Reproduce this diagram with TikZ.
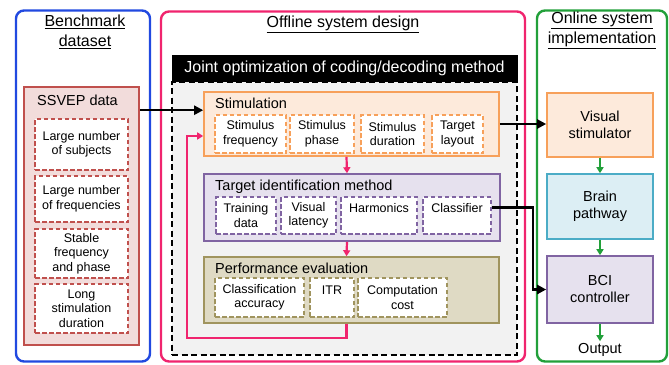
\documentclass[tikz,border=0pt]{standalone}
\usepackage{fontspec}
\setmainfont{Liberation Sans}
\usetikzlibrary{arrows.meta,positioning,calc}
\definecolor{benchblue}{HTML}{2149E0}
\definecolor{offpink}{HTML}{F0246E}
\definecolor{ongreen}{HTML}{22A03A}
\definecolor{redline}{HTML}{C0504D}
\definecolor{redfill}{HTML}{F2DCDB}
\definecolor{orline}{HTML}{F7A05A}
\definecolor{orfill}{HTML}{FDEADB}
\definecolor{puline}{HTML}{8064A2}
\definecolor{pufill}{HTML}{E6E1EE}
\definecolor{olline}{HTML}{A0945E}
\definecolor{olfill}{HTML}{DFDAC4}
\definecolor{teline}{HTML}{4BACC6}
\definecolor{tefill}{HTML}{DCEEF4}
\definecolor{optgray}{HTML}{F2F2F2}
\tikzset{
  panel/.style={rounded corners=8pt, line width=2.4pt, fill=white, inner sep=0pt},
  ptitle/.style={font=\fontsize{16}{20}\selectfont, align=center},
  group/.style={line width=1.6pt, inner sep=0pt},
  gtitle/.style={font=\fontsize{14.5}{17}\selectfont, anchor=west, inner sep=0pt},
  sub/.style={line width=1.6pt, dash pattern=on 4.5pt off 2.5pt, fill=white, inner sep=0pt,
              align=center, font=\fontsize{12.5}{14.5}\selectfont},
  unit/.style={line width=1.6pt, inner sep=0pt, align=center,
               font=\fontsize{14.5}{17}\selectfont, minimum width=106pt},
  arrow/.style={-{Triangle[length=9pt,width=9pt]}, line width=2.2pt, draw=black},
  fb/.style={-{Triangle[length=6pt,width=7pt]}, line width=2.2pt, draw=offpink},
  flow/.style={-{Triangle[length=6pt,width=7pt]}, line width=2.2pt, draw=ongreen}
}
\begin{document}
\begin{tikzpicture}[x=1pt,y=-1pt]
  \useasboundingbox (0,0) rectangle (669,364);

  % three columns
  \node[panel,draw=benchblue,minimum width=134pt,minimum height=351pt] (bench) at (83,186) {};
  \node[panel,draw=offpink,minimum width=364pt,minimum height=350pt] (offline) at (343,186.5) {};
  \node[panel,draw=ongreen,minimum width=130pt,minimum height=351pt] (online) at (602,186) {};
  \node[ptitle] (benchT) at (85,32) {\underline{Benchmark}\\\underline{dataset}};
  \node[ptitle] (offT) at (343,24) {\underline{Offline system design}};
  \node[ptitle] (onT) at (602,30) {\underline{Online system}\\\underline{implementation}};

  % benchmark dataset
  \node[group,draw=redline,fill=redfill,minimum width=115pt,minimum height=258pt] (ssvep) at (81.5,216) {};
  \node[gtitle] (ssvepT) at (37,100) {SSVEP data};
  \node[sub,draw=redline,minimum width=93pt,minimum height=51pt] (subj) at (81.5,144.5) {Large number\\of subjects};
  \node[sub,draw=redline,minimum width=93pt,minimum height=46pt] (freq) at (81.5,199) {Large number\\of frequencies};
  \node[sub,draw=redline,minimum width=93pt,minimum height=49pt] (stab) at (81.5,253.5) {Stable\\frequency\\and phase};
  \node[sub,draw=redline,minimum width=93pt,minimum height=49pt] (long) at (81.5,308.5) {Long\\stimulation\\duration};

  % joint optimization
  \node[draw=black,line width=1.6pt,dash pattern=on 6pt off 3.5pt,fill=optgray,inner sep=0pt,
        minimum width=345pt,minimum height=273pt] (opt) at (344.5,218.5) {};
  \node[fill=black,text=white,inner sep=0pt,minimum width=346pt,minimum height=27pt,
        font=\fontsize{16}{20}\selectfont] (optT) at (344.5,68.5) {Joint optimization of coding/decoding method};

  \node[group,draw=orline,fill=orfill,minimum width=295pt,minimum height=64pt] (stim) at (351.5,124) {};
  \node[gtitle] (stimT) at (215,103) {Stimulation};
  \node[sub,draw=orline,minimum width=71pt,minimum height=38pt] (sfreq) at (250.5,134) {Stimulus\\frequency};
  \node[sub,draw=orline,minimum width=64pt,minimum height=38pt] (sphase) at (322,134) {Stimulus\\phase};
  \node[sub,draw=orline,minimum width=63pt,minimum height=38pt] (sdur) at (392.5,134) {Stimulus\\duration};
  \node[sub,draw=orline,minimum width=51pt,minimum height=38pt] (slay) at (457.5,134) {Target\\layout};

  \node[group,draw=puline,fill=pufill,minimum width=296pt,minimum height=67pt] (tid) at (352,207.5) {};
  \node[gtitle] (tidT) at (215,187) {Target identification method};
  \node[sub,draw=puline,minimum width=60pt,minimum height=37pt] (train) at (246,215.5) {Training\\data};
  \node[sub,draw=puline,minimum width=55pt,minimum height=37pt] (lat) at (308.5,215.5) {Visual\\latency};
  \node[sub,draw=puline,minimum width=76pt,minimum height=37pt] (harm) at (379,215.5) {Harmonics\\\mbox{}};
  \node[sub,draw=puline,minimum width=68pt,minimum height=37pt] (cls) at (457,215.5) {Classifier\\\mbox{}};

  \node[group,draw=olline,fill=olfill,minimum width=295pt,minimum height=66pt] (pe) at (351.5,290) {};
  \node[gtitle] (peT) at (215,268) {Performance evaluation};
  \node[sub,draw=olline,minimum width=89pt,minimum height=39pt] (acc) at (259.5,297.5) {Classification\\accuracy};
  \node[sub,draw=olline,minimum width=44pt,minimum height=39pt] (itr) at (332,297.5) {ITR\\\mbox{}};
  \node[sub,draw=olline,minimum width=89pt,minimum height=39pt] (cost) at (402.5,297.5) {Computation\\cost};

  \draw[fb] ([xshift=-5pt]stim.south) -- ([xshift=-5pt]tid.north);
  \draw[fb] ([xshift=-5pt]tid.south) -- ([xshift=-5pt]pe.north);
  \draw[fb] ([xshift=-5pt]pe.south) -- ++(0,14) -| ([xshift=-16pt,yshift=-12pt]stim.west) -- ([yshift=-12pt]stim.west);

  % online system
  \node[unit,draw=orline,fill=orfill,minimum height=64pt] (vis) at (600,125) {Visual\\stimulator};
  \node[unit,draw=teline,fill=tefill,minimum height=65pt] (brain) at (600,206.5) {Brain\\pathway};
  \node[unit,draw=puline,fill=pufill,minimum height=67pt] (bci) at (600,289.5) {BCI\\controller};
  \node[font=\fontsize{14.5}{17}\selectfont,inner sep=2pt] (out) at (600,350) {Output};
  \draw[flow] (vis.south) -- (brain.north);
  \draw[flow] (brain.south) -- (bci.north);
  \draw[flow] (bci.south) -- (out.north);

  % links between columns
  \draw[arrow] ([yshift=-24pt]ssvep.north east) -- ([yshift=-24pt]ssvep.north east -| stim.west);
  \draw[arrow] (stim.east) -- (stim.east -| vis.west);
  \draw[arrow] ([yshift=8pt]cls.east) -- ++(41,0) |- (bci.west);
\end{tikzpicture}
\end{document}
